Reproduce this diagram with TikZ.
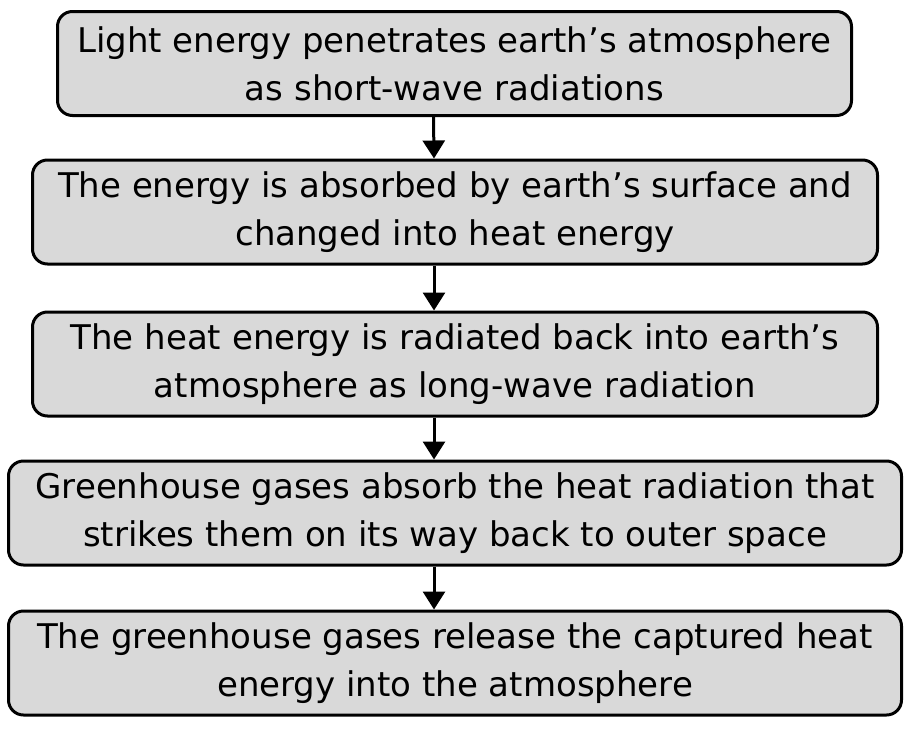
\documentclass[tikz,border=0pt]{standalone}
\usepackage{fontspec}
\setmainfont{DejaVu Sans}
\usetikzlibrary{arrows.meta}
\tikzset{
  stepbox/.style={draw=black, line width=3pt, fill=boxgray, rounded corners=15pt,
    align=center, minimum height=104pt, inner sep=0pt,
    font=\fontsize{34}{48}\selectfont},
  flow/.style={line width=3pt, -{Triangle[width=22pt,length=18pt]}}
}
\definecolor{boxgray}{HTML}{D9D9D9}
\begin{document}
\begin{tikzpicture}[x=1pt,y=1pt]
\useasboundingbox (0,0) rectangle (915,-728);
\node (light) [stepbox, minimum width=794pt] at (454.5,-63.5)
    {Light energy penetrates earth’s atmosphere\\as short-wave radiations};
\node (absorb) [stepbox, minimum width=845pt] at (455,-212)
    {The energy is absorbed by earth’s surface and\\changed into heat energy};
\node (radiate) [stepbox, minimum width=845pt] at (455,-364)
    {The heat energy is radiated back into earth’s\\atmosphere as long-wave radiation};
\node (gases) [stepbox, minimum width=893pt] at (455,-513)
    {Greenhouse gases absorb the heat radiation that\\strikes them on its way back to outer space};
\node (release) [stepbox, minimum width=893pt] at (455,-663)
    {The greenhouse gases release the captured heat\\energy into the atmosphere};
\draw [flow] ([xshift=-21pt]light.south) -- ([xshift=-21pt]absorb.north);
\draw [flow] ([xshift=-21pt]absorb.south) -- ([xshift=-21pt]radiate.north);
\draw [flow] ([xshift=-21pt]radiate.south) -- ([xshift=-21pt]gases.north);
\draw [flow] ([xshift=-21pt]gases.south) -- ([xshift=-21pt]release.north);
\end{tikzpicture}
\end{document}
